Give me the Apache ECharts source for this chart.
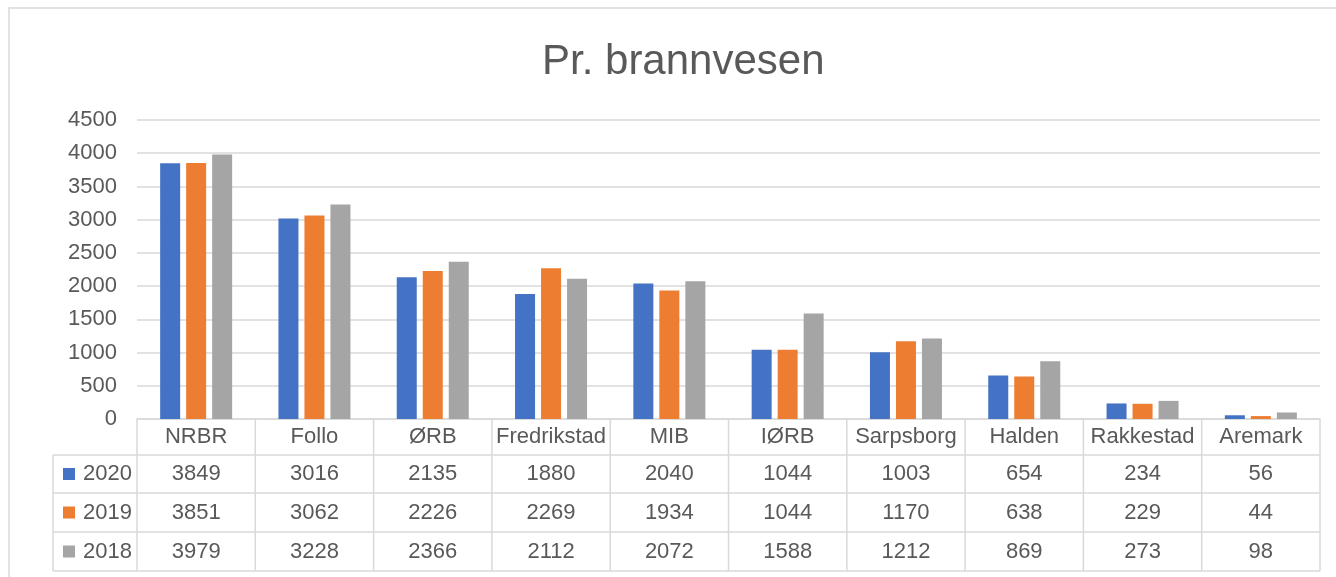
<!DOCTYPE html>
<html>
<head>
<meta charset="utf-8">
<script src="https://cdn.jsdelivr.net/npm/echarts@6/dist/echarts.min.js"></script>
<style>
html, body { margin: 0; padding: 0; background: #fff; }
#main { width: 1336px; height: 577px; }
</style>
</head>
<body>
<div id="main"></div>
<script>
var stations = ['NRBR', 'Follo', 'ØRB', 'Fredrikstad', 'MIB', 'IØRB', 'Sarpsborg', 'Halden', 'Rakkestad', 'Aremark'];
var years = ['2020', '2019', '2018'];
var v2020 = [3849, 3016, 2135, 1880, 2040, 1044, 1003, 654, 234, 56];
var v2019 = [3851, 3062, 2226, 2269, 1934, 1044, 1170, 638, 229, 44];
var v2018 = [3979, 3228, 2366, 2112, 2072, 1588, 1212, 869, 273, 98];

var rows = [v2020, v2019, v2018];
var colors = ['#4472C4', '#ED7D31', '#A5A5A5'];

// layout
var gridL = 137, gridR = 1320, gridT = 120, gridB = 419;
var rowY = [419, 455, 493, 532, 571];
var tableL = 53;
var lineCol = '#d9d9d9';
var textCol = '#595959';
var font = 'Liberation Sans';

var myChart = echarts.init(document.getElementById('main'));

function rowMid(i) {
    return (rowY[i] + rowY[i + 1]) / 2;
}

// x axes: first one holds the station names, the others hold the table rows
var xAxes = [{
    type: 'category',
    gridIndex: 0,
    position: 'bottom',
    data: stations,
    axisLine: { show: true, lineStyle: { color: lineCol, width: 1.5 } },
    axisTick: { show: false },
    axisLabel: {
        interval: 0, color: textCol, fontFamily: font, fontSize: 22,
        verticalAlign: 'middle', margin: rowMid(0) - gridB
    }
}];
for (var r = 0; r < rows.length; r++) {
    xAxes.push({
        type: 'category',
        gridIndex: 0,
        position: 'bottom',
        data: rows[r].map(String),
        axisLine: { show: false },
        axisTick: { show: false },
        splitLine: { show: false },
        axisLabel: {
            interval: 0, color: textCol, fontFamily: font, fontSize: 22,
            verticalAlign: 'middle', margin: rowMid(r + 1) - gridB
        }
    });
}

// table lines + legend keys
var graphics = [];
function addLine(x1, y1, x2, y2) {
    graphics.push({
        type: 'line',
        shape: { x1: x1, y1: y1, x2: x2, y2: y2 },
        style: { stroke: lineCol, lineWidth: 1.5 },
        z: 10
    });
}
graphics.push({
    type: 'rect',
    shape: { x: 9, y: 8, width: 1400, height: 600 },
    style: { fill: 'none', stroke: lineCol, lineWidth: 1.5 }
});
var colW = (gridR - gridL) / stations.length;
for (var c = 0; c <= stations.length; c++) {
    addLine(gridL + c * colW, rowY[0], gridL + c * colW, rowY[4]);
}
addLine(tableL, rowY[1], tableL, rowY[4]);
for (var k = 1; k < rowY.length; k++) {
    addLine(tableL, rowY[k], gridR, rowY[k]);
}
for (var s = 0; s < years.length; s++) {
    graphics.push({
        type: 'rect',
        shape: { x: 63, y: rowMid(s + 1) - 6, width: 12, height: 12 },
        style: { fill: colors[s] }
    });
    graphics.push({
        type: 'text',
        x: 83, y: rowMid(s + 1),
        style: {
            text: years[s], fill: textCol, font: '22px "' + font + '"',
            verticalAlign: 'middle', align: 'left'
        }
    });
}

var option = {
    animation: false,
    title: {
        text: 'Pr. brannvesen',
        left: 537,
        top: 36,
        textStyle: { color: textCol, fontFamily: font, fontSize: 42, fontWeight: 'normal' }
    },
    grid: { left: gridL, right: 1336 - gridR, top: gridT, bottom: 577 - gridB, containLabel: false },
    xAxis: xAxes,
    yAxis: {
        type: 'value',
        min: 0,
        max: 4500,
        interval: 500,
        axisLine: { show: false },
        axisTick: { show: false },
        axisLabel: {
            color: textCol, fontFamily: font, fontSize: 22, margin: 20,
            formatter: function (v) { return String(v); }
        },
        splitLine: { lineStyle: { color: lineCol, width: 1.5 } }
    },
    series: years.map(function (y, i) {
        return {
            name: y,
            type: 'bar',
            data: rows[i],
            barWidth: 20,
            barGap: '30%',
            itemStyle: { color: colors[i] }
        };
    }),
    graphic: graphics
};
myChart.setOption(option);
</script>
</body>
</html>
